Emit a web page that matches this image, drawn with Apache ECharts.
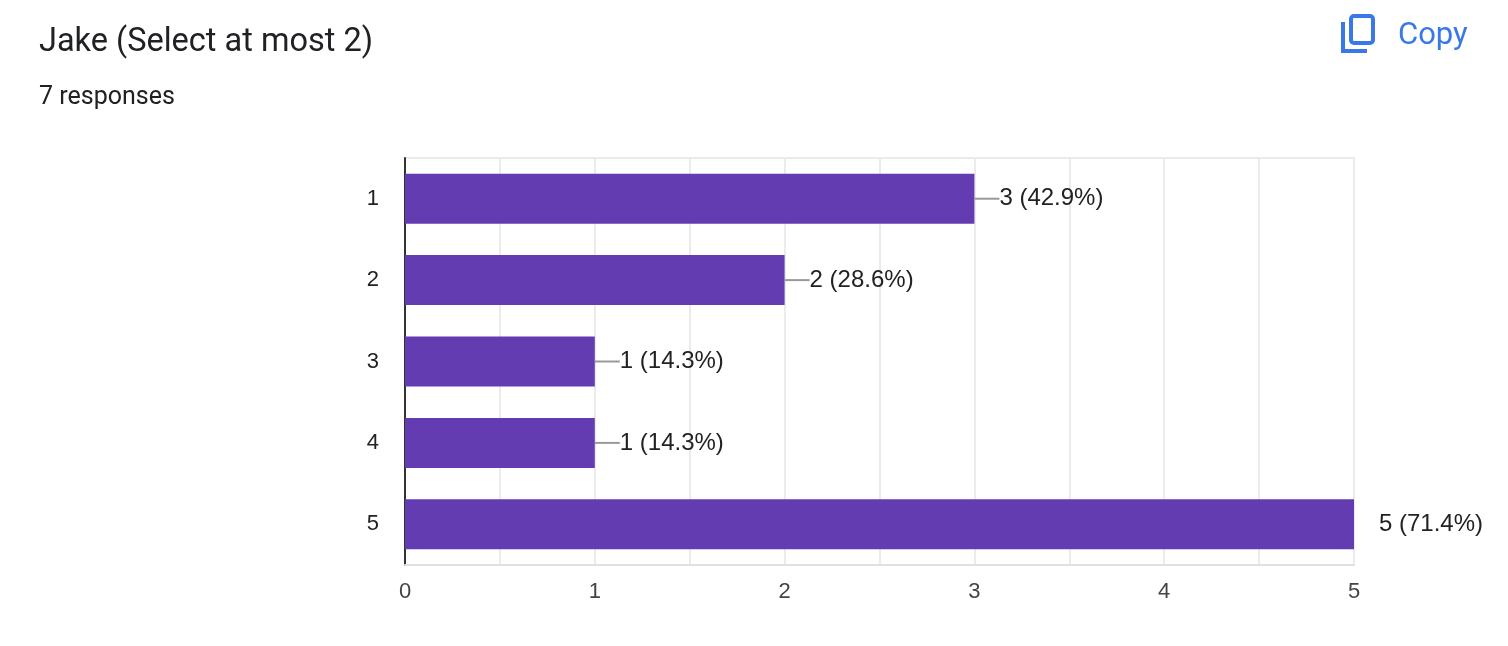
<!DOCTYPE html>
<html>
<head>
<meta charset="utf-8">
<script src="https://cdn.jsdelivr.net/npm/echarts@6/dist/echarts.min.js"></script>
<style>
  html, body { margin: 0; padding: 0; background: #fff; }
  #chart { width: 1508px; height: 646px; }
</style>
</head>
<body>
<div id="chart"></div>
<script>
// 数据
const categories = ['1', '2', '3', '4', '5']
const counts = [3, 2, 1, 1, 5]
const percents = ['42.9%', '28.6%', '14.3%', '14.3%', '71.4%']
const xMax = 5

const BAR = '#623cb0'
const BLUE = '#3b78e7'
const ARIAL = 'Liberation Sans'

const chart = echarts.init(document.getElementById('chart'))

const option = {
  animation: false,
  textStyle: { fontFamily: ARIAL },
  title: [
    {
      text: 'Jake (Select at most 2)',
      left: 34, top: 21,
      textStyle: { fontSize: 32.5, fontWeight: 'normal', color: '#202124', fontFamily: 'Roboto' }
    },
    {
      text: '7 responses',
      left: 34, top: 80,
      textStyle: { fontSize: 25, fontWeight: 'normal', color: '#202124', fontFamily: 'Roboto' }
    }
  ],
  graphic: [
    {
      type: 'rect',
      shape: { x: 1351, y: 16, width: 22, height: 27, r: 3 },
      style: { fill: 'none', stroke: BLUE, lineWidth: 4 }
    },
    {
      type: 'polyline',
      shape: { points: [[1343, 22], [1343, 51], [1367, 51]] },
      style: { fill: 'none', stroke: BLUE, lineWidth: 4 }
    },
    {
      type: 'text',
      left: 1398, top: 21,
      style: { text: 'Copy', fill: BLUE, font: '31px Roboto' }
    }
  ],
  grid: {
    left: 405, right: 154, top: 158, bottom: 81,
    show: true, borderColor: '#ebebeb', borderWidth: 2
  },
  xAxis: {
    type: 'value',
    min: 0, max: xMax, interval: 0.5,
    axisLine: { show: true, lineStyle: { color: '#e0e0e0', width: 2 } },
    axisTick: { show: false },
    splitLine: { lineStyle: { color: '#ebebeb', width: 2 } },
    axisLabel: {
      fontSize: 22, color: '#444', margin: 16, fontFamily: ARIAL,
      formatter: v => (Number.isInteger(v) ? String(v) : '')
    }
  },
  yAxis: {
    type: 'category',
    inverse: true,
    data: categories,
    axisLine: { lineStyle: { color: '#333', width: 2 } },
    axisTick: { show: false },
    axisLabel: { fontSize: 22, color: '#222', margin: 26, fontFamily: ARIAL }
  },
  series: [{
    type: 'bar',
    data: counts,
    barWidth: 50,
    itemStyle: { color: BAR },
    label: {
      show: true,
      position: 'right',
      distance: 0,
      formatter: p => (p.value >= xMax ? '{gap|}' : '{line|}') + '{txt|' + p.value + ' (' + percents[p.dataIndex] + ')}',
      rich: {
        line: { width: 25, height: 2, backgroundColor: '#999', verticalAlign: 'middle' },
        gap: { width: 25, height: 2, verticalAlign: 'middle' },
        txt: { fontSize: 24, color: '#222', fontFamily: ARIAL, verticalAlign: 'middle' }
      }
    }
  }]
}

chart.setOption(option)
</script>
</body>
</html>
